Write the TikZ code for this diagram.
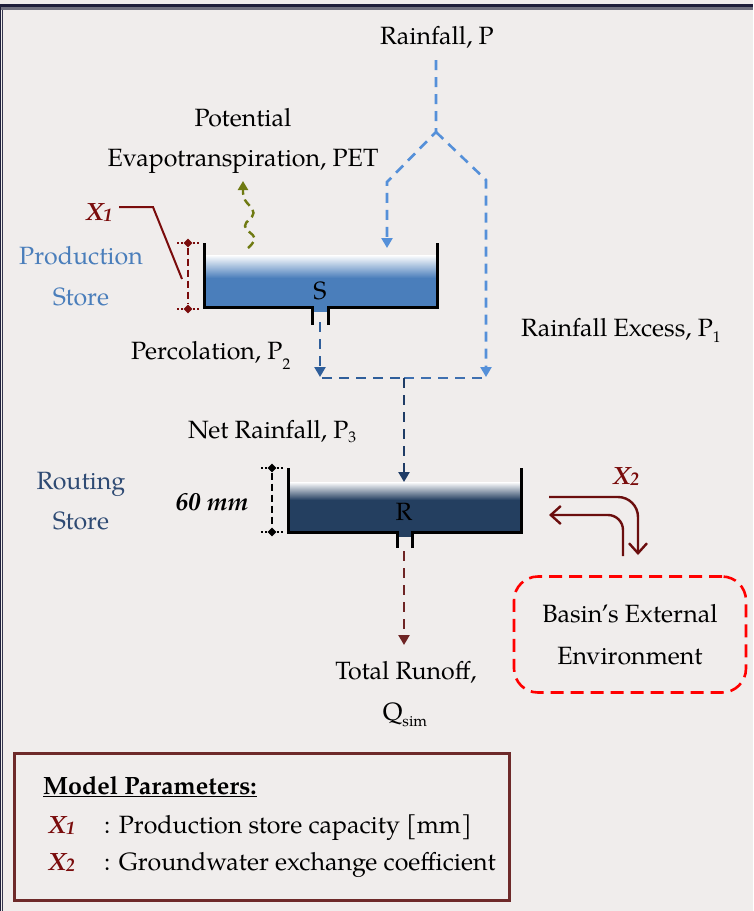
\documentclass[tikz,border=0pt]{standalone}
\usepackage{fontspec}
\setmainfont{TeX Gyre Pagella}
\usetikzlibrary{arrows.meta,shapes.geometric}

\definecolor{bg}{HTML}{F0EDEC}
\definecolor{framenavy}{HTML}{1E1E3A}
\definecolor{framegray}{HTML}{70707E}
\definecolor{rainblue}{HTML}{5590D9}
\definecolor{percblue}{HTML}{2F5E9A}
\definecolor{mixblue}{HTML}{3F70B0}
\definecolor{netblue}{HTML}{1F3C66}
\definecolor{storeblue}{HTML}{4A7EBB}
\definecolor{routenavy}{HTML}{243F60}
\definecolor{routetext}{HTML}{2E4A73}
\definecolor{paramred}{HTML}{7A0C0C}
\definecolor{exchred}{HTML}{6B0E0E}
\definecolor{runoffred}{HTML}{6E2424}
\definecolor{petolive}{HTML}{6F7A12}
\definecolor{boxbrown}{HTML}{6E2A2A}

% lowered small index after a symbol
\newcommand{\idx}[2]{\raisebox{#1}{\fontsize{15.5}{15.5}\selectfont #2}}
\newcommand{\parX}[1]{{\bfseries\itshape X\kern-0.5pt\raisebox{-1.5pt}{\fontsize{18.5}{18.5}\selectfont #1}}}

\begin{document}
\begin{tikzpicture}[x=1pt,y=-1pt,
  every node/.style={inner sep=0pt, font=\fontsize{25}{30}\selectfont},
  txt/.style={anchor=base},
  txtw/.style={anchor=base west},
  flow/.style={line width=2.6pt, dash pattern=on 10pt off 7pt, -{Triangle[width=11pt,length=10pt]}},
  flowline/.style={line width=2.6pt, dash pattern=on 10pt off 7pt},
  wall/.style={line width=3pt, black},
  marker/.style={diamond, fill, minimum size=9pt, inner sep=0pt},
  tick/.style={line width=1.6pt, dash pattern=on 1.6pt off 2.4pt},
  dimline/.style={line width=2.2pt, dash pattern=on 7pt off 4pt},
  exch/.style={draw=exchred, line width=2.4pt, rounded corners=20pt,
    -{Straight Barb[length=10pt,width=18pt,line width=2.4pt]}},
]
\useasboundingbox (0,0) rectangle (753,911);
\fill[bg] (0,0) rectangle (753,911);

% frame edges
\fill[framenavy] (0,4) rectangle (753,7);
\fill[framegray] (0,7) rectangle (753,10);
\fill[framenavy] (0,4) rectangle (1.2,911);
\fill[framenavy!70!framegray] (2.2,10) rectangle (3.4,911);

% ---------- production store ----------
\fill[storeblue] (204,256) rectangle (437,308);
\shade[top color=white, bottom color=storeblue] (204,255) rectangle (437,278);
\fill[storeblue] (312,307) rectangle (328,312);
\draw[wall] (204,243) -- (204,307.5) -- (312,307.5) -- (312,325);
\draw[wall] (328,325) -- (328,307.5) -- (437,307.5) -- (437,243);
\node[txt] (S) at (320,299) {S};

% ---------- routing store ----------
\fill[routenavy] (288,483) rectangle (521,533);
\shade[top color=white, bottom color=routenavy] (288,482) rectangle (521,500);
\fill[routenavy] (397,532) rectangle (412,537);
\draw[wall] (288,468) -- (288,532.5) -- (397,532.5) -- (397,548);
\draw[wall] (412,548) -- (412,532.5) -- (521,532.5) -- (521,468);
\node[txt] (R) at (404,520) {R};

% ---------- labels ----------
\node[txt] (rain) at (437,44) {Rainfall, P};
\node[txt] (pet1) at (243,126) {Potential};
\node[txt] (pet2) at (243,166) {Evapotranspiration, PET};
\node[txt, text=paramred] (x1lab) at (99,220) {\parX{1}};
\node[txt, text=storeblue] (prod1) at (81,264) {Production};
\node[txt, text=storeblue] (prod2) at (81,305) {Store};
\node[txtw] (perc) at (131,359) {Percolation, P\idx{-10pt}{2}};
\node[txtw] (excess) at (521,336) {Rainfall Excess, P\idx{-6pt}{1}};
\node[txtw] (net) at (188,438) {Net Rainfall, P\idx{-4pt}{3}};
\node[txt, text=routetext] (rout1) at (81,489) {Routing};
\node[txt, text=routetext] (rout2) at (81,529) {Store};
\node[txt, font=\fontsize{25}{30}\selectfont\bfseries\itshape] (sixty) at (212,510) {60 mm};
\node[txt, text=paramred] (x2lab) at (626,484) {\parX{2}};
\node[txt] (tot) at (406,679) {Total Runoff,};
\node[txt] (qsim) at (405,720) {Q\idx{-6pt}{sim}};

% ---------- rainfall split ----------
\coordinate (rtop) at (436,60);
\coordinate (apex) at (436,132);
\coordinate (lcorner) at (387,182);
\coordinate (ltip) at (387,248);
\coordinate (rcorner) at (486,180);
\coordinate (rtip) at (486,377);
\draw[flow, rainblue] (rtop) -- (apex) -- (lcorner) -- (ltip);
\draw[flow, rainblue] (apex) -- (rcorner) -- (rtip);

% ---------- percolation and net rainfall ----------
\coordinate (percstart) at (320,322);
\coordinate (perctip) at (320,377);
\coordinate (joinl) at (322,378);
\coordinate (joinm) at (404,378);
\coordinate (joinr) at (484,378);
\coordinate (nettip) at (404,482);
\draw[flow, percblue] (percstart) -- (perctip);
\draw[flowline, percblue] (joinl) -- (joinm);
\draw[flowline, mixblue] (joinm) -- (joinr);
\draw[flow, netblue] (joinm) -- (nettip);

% ---------- total runoff ----------
\coordinate (runstart) at (404,551);
\coordinate (runtip) at (404,645);
\draw[flow, runoffred] (runstart) -- (runtip);

% ---------- evapotranspiration (wavy rising arrow) ----------
\coordinate (petbot) at (248,248);
\coordinate (pettop) at (243,181);
\draw[petolive, line width=2.4pt, dash pattern=on 8pt off 5pt,
  -{Triangle[width=10pt,length=9pt]}]
  plot[smooth, tension=0.7] coordinates {(248,248) (254.5,238) (245,226) (253.5,213) (245,200) (243,192)}
  -- (pettop);

% ---------- X1 capacity dimension ----------
\node[marker, paramred] (x1t) at (188,243) {};
\node[marker, paramred] (x1b) at (188,309) {};
\draw[dimline, paramred] (x1t) -- (x1b);
\draw[tick, paramred] ([xshift=-11pt]x1t.center) -- ([xshift=11pt]x1t.center);
\draw[tick, paramred] ([xshift=-11pt]x1b.center) -- ([xshift=11pt]x1b.center);
\coordinate (x1a) at (119,207);
\coordinate (x1k) at (153,207);
\coordinate (x1e) at (182,279);
\draw[paramred, line width=2pt] (x1a) -- (x1k) -- (x1e);

% ---------- 60 mm dimension ----------
\node[marker] (rt) at (272,468) {};
\node[marker] (rb) at (272,532) {};
\draw[dimline] (rt) -- (rb);
\draw[tick] ([xshift=-11pt]rt.center) -- ([xshift=11pt]rt.center);
\draw[tick] ([xshift=-11pt]rb.center) -- ([xshift=11pt]rb.center);

% ---------- groundwater exchange ----------
\node[draw=red, line width=2.6pt, dash pattern=on 13pt off 7pt, rounded corners=24pt,
  minimum width=232pt, minimum height=116pt, align=center,
  font=\fontsize{25}{42}\selectfont] (basin) at (630,634.5) {Basin’s External\\Environment};
\coordinate (outA) at (549,497);
\coordinate (outB) at (638,497);
\coordinate (outC) at (638,555);
\coordinate (inA) at (623,556);
\coordinate (inB) at (623,515);
\coordinate (inC) at (549,515);
\draw[exch] (outA) -- (outB) -- (outC);
\draw[exch, rounded corners=15pt] (inA) -- (inB) -- (inC);

% ---------- parameter box ----------
\node[draw=boxbrown, line width=3pt, minimum width=495pt, minimum height=147pt] (params) at (261.5,826.5) {};
\node[txtw, font=\fontsize{25}{30}\selectfont\bfseries] (mp) at (43,794) {\underline{Model Parameters:}};
\node[txtw, text=paramred] (p1sym) at (48,833) {\parX{1}};
\node[txtw] (p1) at (104,833) {: Production store capacity [mm]};
\node[txtw, text=paramred] (p2sym) at (48,870) {\parX{2}};
\node[txtw] (p2) at (104,870) {: Groundwater exchange coefficient};
\end{tikzpicture}
\end{document}
